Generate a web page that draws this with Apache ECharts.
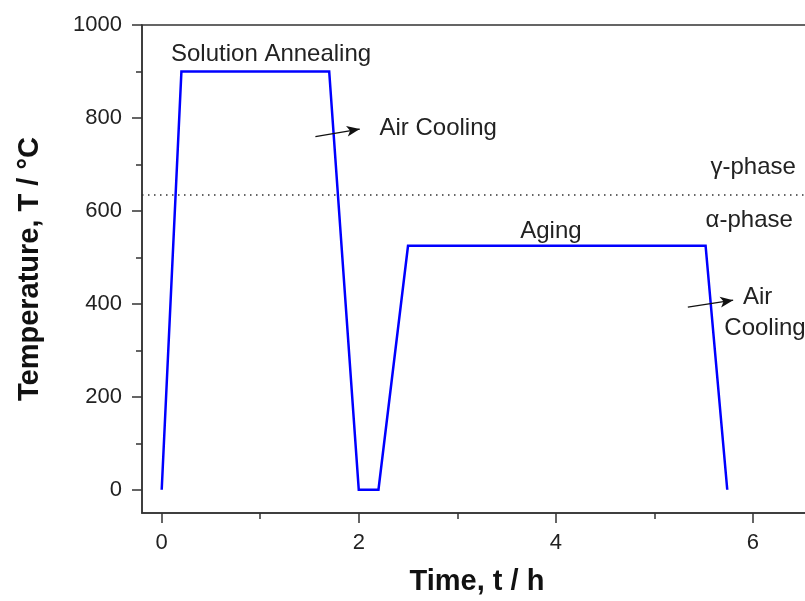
<!DOCTYPE html>
<html>
<head>
<meta charset="utf-8">
<script src="https://cdn.jsdelivr.net/npm/echarts@6/dist/echarts.min.js"></script>
<style>
  html, body { margin: 0; padding: 0; background: #fff; overflow: hidden; }
  #chart { width: 812px; height: 601px; }
</style>
</head>
<body>
<div id="chart"></div>
<script>
// Heat-treatment schedule: time (h) vs temperature (°C)
const timeH = [0, 0.2, 1.7, 2.0, 2.2, 2.5, 5.52, 5.74];
const tempC = [0, 900, 900, 0, 0, 525, 525, 0];

// Phase boundary temperature
const phaseBoundary = 635;

// Tick values
const xMajorTicks = [0, 2, 4, 6];
const xMinorTicks = [1, 3, 5];
const yMajorTicks = [0, 200, 400, 600, 800, 1000];
const yMinorTicks = [100, 300, 500, 700, 900];

// Text notes, anchored in data coordinates
const noteTexts = ['Solution Annealing', 'Air Cooling', 'Aging', 'γ-phase', 'α-phase', 'Air', 'Cooling'];
const noteX = [1.11, 2.21, 3.95, 5.57, 5.52, 5.90, 5.71];
const noteY = [936, 778, 557, 694, 580, 414, 348];
const noteAlign = ['center', 'left', 'center', 'left', 'left', 'left', 'left'];

// Arrows pointing at the cooling segments
const arrowStartX = [1.56, 5.34];
const arrowStartY = [760, 393];
const arrowEndX = [2.01, 5.80];
const arrowEndY = [776, 408];

const FONT = '"Liberation Sans", Arial, Helvetica, sans-serif';
const AXIS_COLOR = '#333';
const TEXT_COLOR = '#222';

const chart = echarts.init(document.getElementById('chart'), null, { renderer: 'canvas' });

const points = timeH.map((t, i) => [t, tempC[i]]);

const arrowLines = arrowStartX.map((x, i) => [
  { coord: [x, arrowStartY[i]] },
  { coord: [arrowEndX[i], arrowEndY[i]] }
]);

const plainNumber = (v) => String(v);

const option = {
  animation: false,
  backgroundColor: '#fff',
  grid: {
    left: 142, top: 25, right: 0, bottom: 87,
    show: true, borderColor: AXIS_COLOR, borderWidth: 1.5, backgroundColor: 'transparent'
  },
  xAxis: [
    {
      type: 'value', min: -0.2, max: 6.6, position: 'bottom',
      splitLine: { show: false },
      axisLine: { show: true, onZero: false, lineStyle: { color: AXIS_COLOR, width: 1.5 } },
      name: 'Time, t / h', nameLocation: 'middle', nameGap: 54,
      nameTextStyle: { fontFamily: FONT, fontSize: 29, fontWeight: 'bold', color: '#111' },
      axisTick: { show: true, length: 10, customValues: xMajorTicks, lineStyle: { color: AXIS_COLOR, width: 1.5 } },
      axisLabel: { customValues: xMajorTicks, formatter: plainNumber, margin: 19, fontFamily: FONT, fontSize: 22, color: TEXT_COLOR }
    },
    {
      type: 'value', min: -0.2, max: 6.6, position: 'bottom',
      splitLine: { show: false },
      axisLine: { show: false, onZero: false },
      axisTick: { show: true, length: 6, customValues: xMinorTicks, lineStyle: { color: AXIS_COLOR, width: 1.5 } },
      axisLabel: { show: false }
    }
  ],
  yAxis: [
    {
      type: 'value', min: -50, max: 1000, position: 'left',
      splitLine: { show: false },
      axisLine: { show: true, onZero: false, lineStyle: { color: AXIS_COLOR, width: 1.5 } },
      name: 'Temperature, T / °C', nameLocation: 'middle', nameGap: 98, nameRotate: 90,
      nameTextStyle: { fontFamily: FONT, fontSize: 29, fontWeight: 'bold', color: '#111' },
      axisTick: { show: true, length: 10, customValues: yMajorTicks, lineStyle: { color: AXIS_COLOR, width: 1.5 } },
      axisLabel: { customValues: yMajorTicks, formatter: plainNumber, margin: 20, fontFamily: FONT, fontSize: 22, color: TEXT_COLOR }
    },
    {
      type: 'value', min: -50, max: 1000, position: 'left',
      splitLine: { show: false },
      axisLine: { show: false, onZero: false },
      axisTick: { show: true, length: 6, customValues: yMinorTicks, lineStyle: { color: AXIS_COLOR, width: 1.5 } },
      axisLabel: { show: false }
    }
  ],
  series: [
    {
      type: 'line',
      data: points,
      xAxisIndex: 0,
      yAxisIndex: 0,
      symbol: 'none',
      lineStyle: { color: '#0000ff', width: 2.5, join: 'miter' },
      markLine: {
        silent: true,
        symbol: 'none',
        label: { show: false },
        lineStyle: { color: '#333', type: [1.5, 4.5], width: 1.5 },
        data: [{ yAxis: phaseBoundary }]
      }
    },
    {
      type: 'line',
      data: [],
      markLine: {
        silent: true,
        symbol: ['none', 'arrow'],
        symbolSize: [8, 13],
        label: { show: false },
        lineStyle: { color: '#111', type: 'solid', width: 1.3 },
        data: arrowLines
      }
    }
  ]
};

chart.setOption(option);

// Place text notes at their data positions
const graphics = noteTexts.map((txt, i) => {
  const p = chart.convertToPixel({ xAxisIndex: 0, yAxisIndex: 0 }, [noteX[i], noteY[i]]);
  return {
    type: 'text',
    x: p[0], y: p[1],
    style: {
      text: txt,
      fill: TEXT_COLOR,
      font: '24px ' + FONT,
      textAlign: noteAlign[i],
      textVerticalAlign: 'middle'
    },
    z: 10
  };
});
chart.setOption({ graphic: graphics });
</script>
</body>
</html>
